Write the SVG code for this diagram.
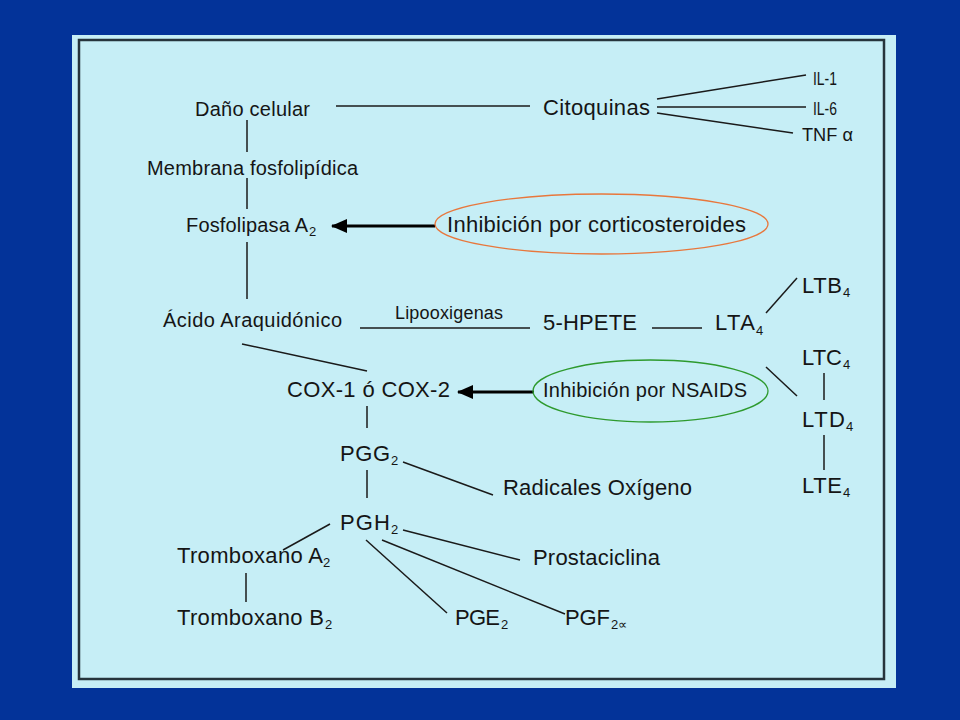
<svg xmlns="http://www.w3.org/2000/svg" width="960" height="720" viewBox="0 0 960 720">
<defs>
<style>
text{font-family:"Liberation Sans",Arial,sans-serif;fill:#151515}
.m{font-size:20px}
.l{font-size:22px}
.s{font-size:18px}
.xs{font-size:18px}
.sub{font-size:13px}
.c line{stroke:#1a1a1a;stroke-width:1.5;fill:none}
.c line.arr{stroke:#000;stroke-width:3.2}
</style>
<marker id="ah" markerUnits="userSpaceOnUse" markerWidth="16" markerHeight="14" refX="15" refY="7" orient="auto">
<path d="M0,0 L16,7 L0,14 Z" fill="#000"/>
</marker>
</defs>
<rect x="0" y="0" width="960" height="720" fill="#033399"/>
<rect x="72" y="35" width="824" height="653" fill="#c6eef6"/>
<rect x="79" y="40" width="805" height="639" fill="none" stroke="#26343c" stroke-width="2.5"/>

<g class="c" id="connectors">
<line x1="247" y1="120" x2="247" y2="152"/>
<line x1="247" y1="178" x2="247" y2="209"/>
<line x1="247" y1="242" x2="247" y2="299"/>
<line x1="336" y1="106" x2="530" y2="106"/>
<line x1="657" y1="99" x2="806" y2="75"/>
<line x1="657" y1="107" x2="806" y2="107"/>
<line x1="657" y1="113" x2="793" y2="133"/>
<line x1="360" y1="328" x2="530" y2="328"/>
<line x1="652" y1="328" x2="702" y2="328"/>
<line x1="766" y1="313" x2="797" y2="278"/>
<line x1="766" y1="367" x2="797" y2="396"/>
<line x1="824" y1="373" x2="824" y2="400"/>
<line x1="824" y1="435" x2="824" y2="470"/>
<line x1="242" y1="344" x2="367" y2="371"/>
<line x1="367" y1="406" x2="367" y2="428"/>
<line x1="403" y1="462" x2="493" y2="495"/>
<line x1="367" y1="470" x2="367" y2="498"/>
<line x1="330" y1="524" x2="283" y2="550"/>
<line x1="246" y1="573" x2="246" y2="602"/>
<line x1="366" y1="540" x2="447" y2="613"/>
<line x1="382" y1="540" x2="565" y2="614"/>
<line x1="403" y1="530" x2="520" y2="560"/>
<line class="arr" x1="435" y1="226" x2="332" y2="226" marker-end="url(#ah)"/>
<line class="arr" x1="534" y1="392" x2="458" y2="392" marker-end="url(#ah)"/>
</g>

<g id="dano"><text class="m" x="195" y="116" textLength="115">Daño celular</text></g>
<g id="membrana"><text class="m" x="147" y="175" textLength="211">Membrana fosfolipídica</text></g>
<g id="fosfolipasa"><text class="m" x="186" y="232" textLength="122">Fosfolipasa A</text><text class="sub" x="309" y="236">2</text></g>
<g id="citoquinas"><text class="l" x="543" y="115" textLength="107">Citoquinas</text></g>
<g id="il1"><text class="xs" x="813" y="85" textLength="24" lengthAdjust="spacingAndGlyphs">IL-1</text></g>
<g id="il6"><text class="xs" x="813" y="115" textLength="24" lengthAdjust="spacingAndGlyphs">IL-6</text></g>
<g id="tnf"><text class="xs" x="802" y="141" textLength="51" lengthAdjust="spacingAndGlyphs">TNF α</text></g>
<g id="cortico">
<ellipse cx="601.5" cy="224" rx="166.5" ry="30" fill="none" stroke="#e8773c" stroke-width="1.3"/>
<text class="l" x="447" y="232" textLength="299">Inhibición por corticosteroides</text>
</g>
<g id="acido"><text class="m" x="163" y="327" textLength="179">Ácido Araquidónico</text></g>
<g id="lipo"><text class="s" x="395" y="319" textLength="108">Lipooxigenas</text></g>
<g id="hpete"><text class="l" x="543" y="330" textLength="94">5-HPETE</text></g>
<g id="lta4"><text class="l" x="715" y="330" textLength="40">LTA</text><text class="sub" x="756" y="335" font-size="14">4</text></g>
<g id="ltb4"><text class="l" x="802" y="293" textLength="40">LTB</text><text class="sub" x="843" y="297">4</text></g>
<g id="ltc4"><text class="l" x="802" y="365" textLength="40">LTC</text><text class="sub" x="843" y="369">4</text></g>
<g id="ltd4"><text class="l" x="802" y="427" textLength="43">LTD</text><text class="sub" x="846" y="431">4</text></g>
<g id="lte4"><text class="l" x="802" y="493" textLength="40">LTE</text><text class="sub" x="843" y="497">4</text></g>
<g id="cox"><text class="l" x="287" y="397" textLength="163">COX-1 ó COX-2</text></g>
<g id="nsaids">
<ellipse cx="650.5" cy="391" rx="117.5" ry="31" fill="none" stroke="#2e9a2e" stroke-width="1.3"/>
<text class="m" x="543" y="397" textLength="204">Inhibición por NSAIDS</text>
</g>
<g id="pgg2"><text class="l" x="340" y="461" textLength="50">PGG</text><text class="sub" x="391" y="465">2</text></g>
<g id="radicales"><text class="l" x="503" y="495" textLength="189">Radicales Oxígeno</text></g>
<g id="pgh2"><text class="l" x="340" y="530" textLength="50">PGH</text><text class="sub" x="391" y="534">2</text></g>
<g id="prostaciclina"><text class="l" x="533" y="565" textLength="127">Prostaciclina</text></g>
<g id="tromboxanoA2"><text class="l" x="177" y="563" textLength="146">Tromboxano A</text><text class="sub" x="323" y="567">2</text></g>
<g id="tromboxanoB2"><text class="l" x="177" y="625" textLength="147">Tromboxano B</text><text class="sub" x="325" y="629">2</text></g>
<g id="pge2"><text class="l" x="455" y="625" textLength="45">PGE</text><text class="sub" x="501" y="629">2</text></g>
<g id="pgf2a"><text class="l" x="565" y="625" textLength="45">PGF</text><text class="sub" x="611" y="629">2∝</text></g>
</svg>
